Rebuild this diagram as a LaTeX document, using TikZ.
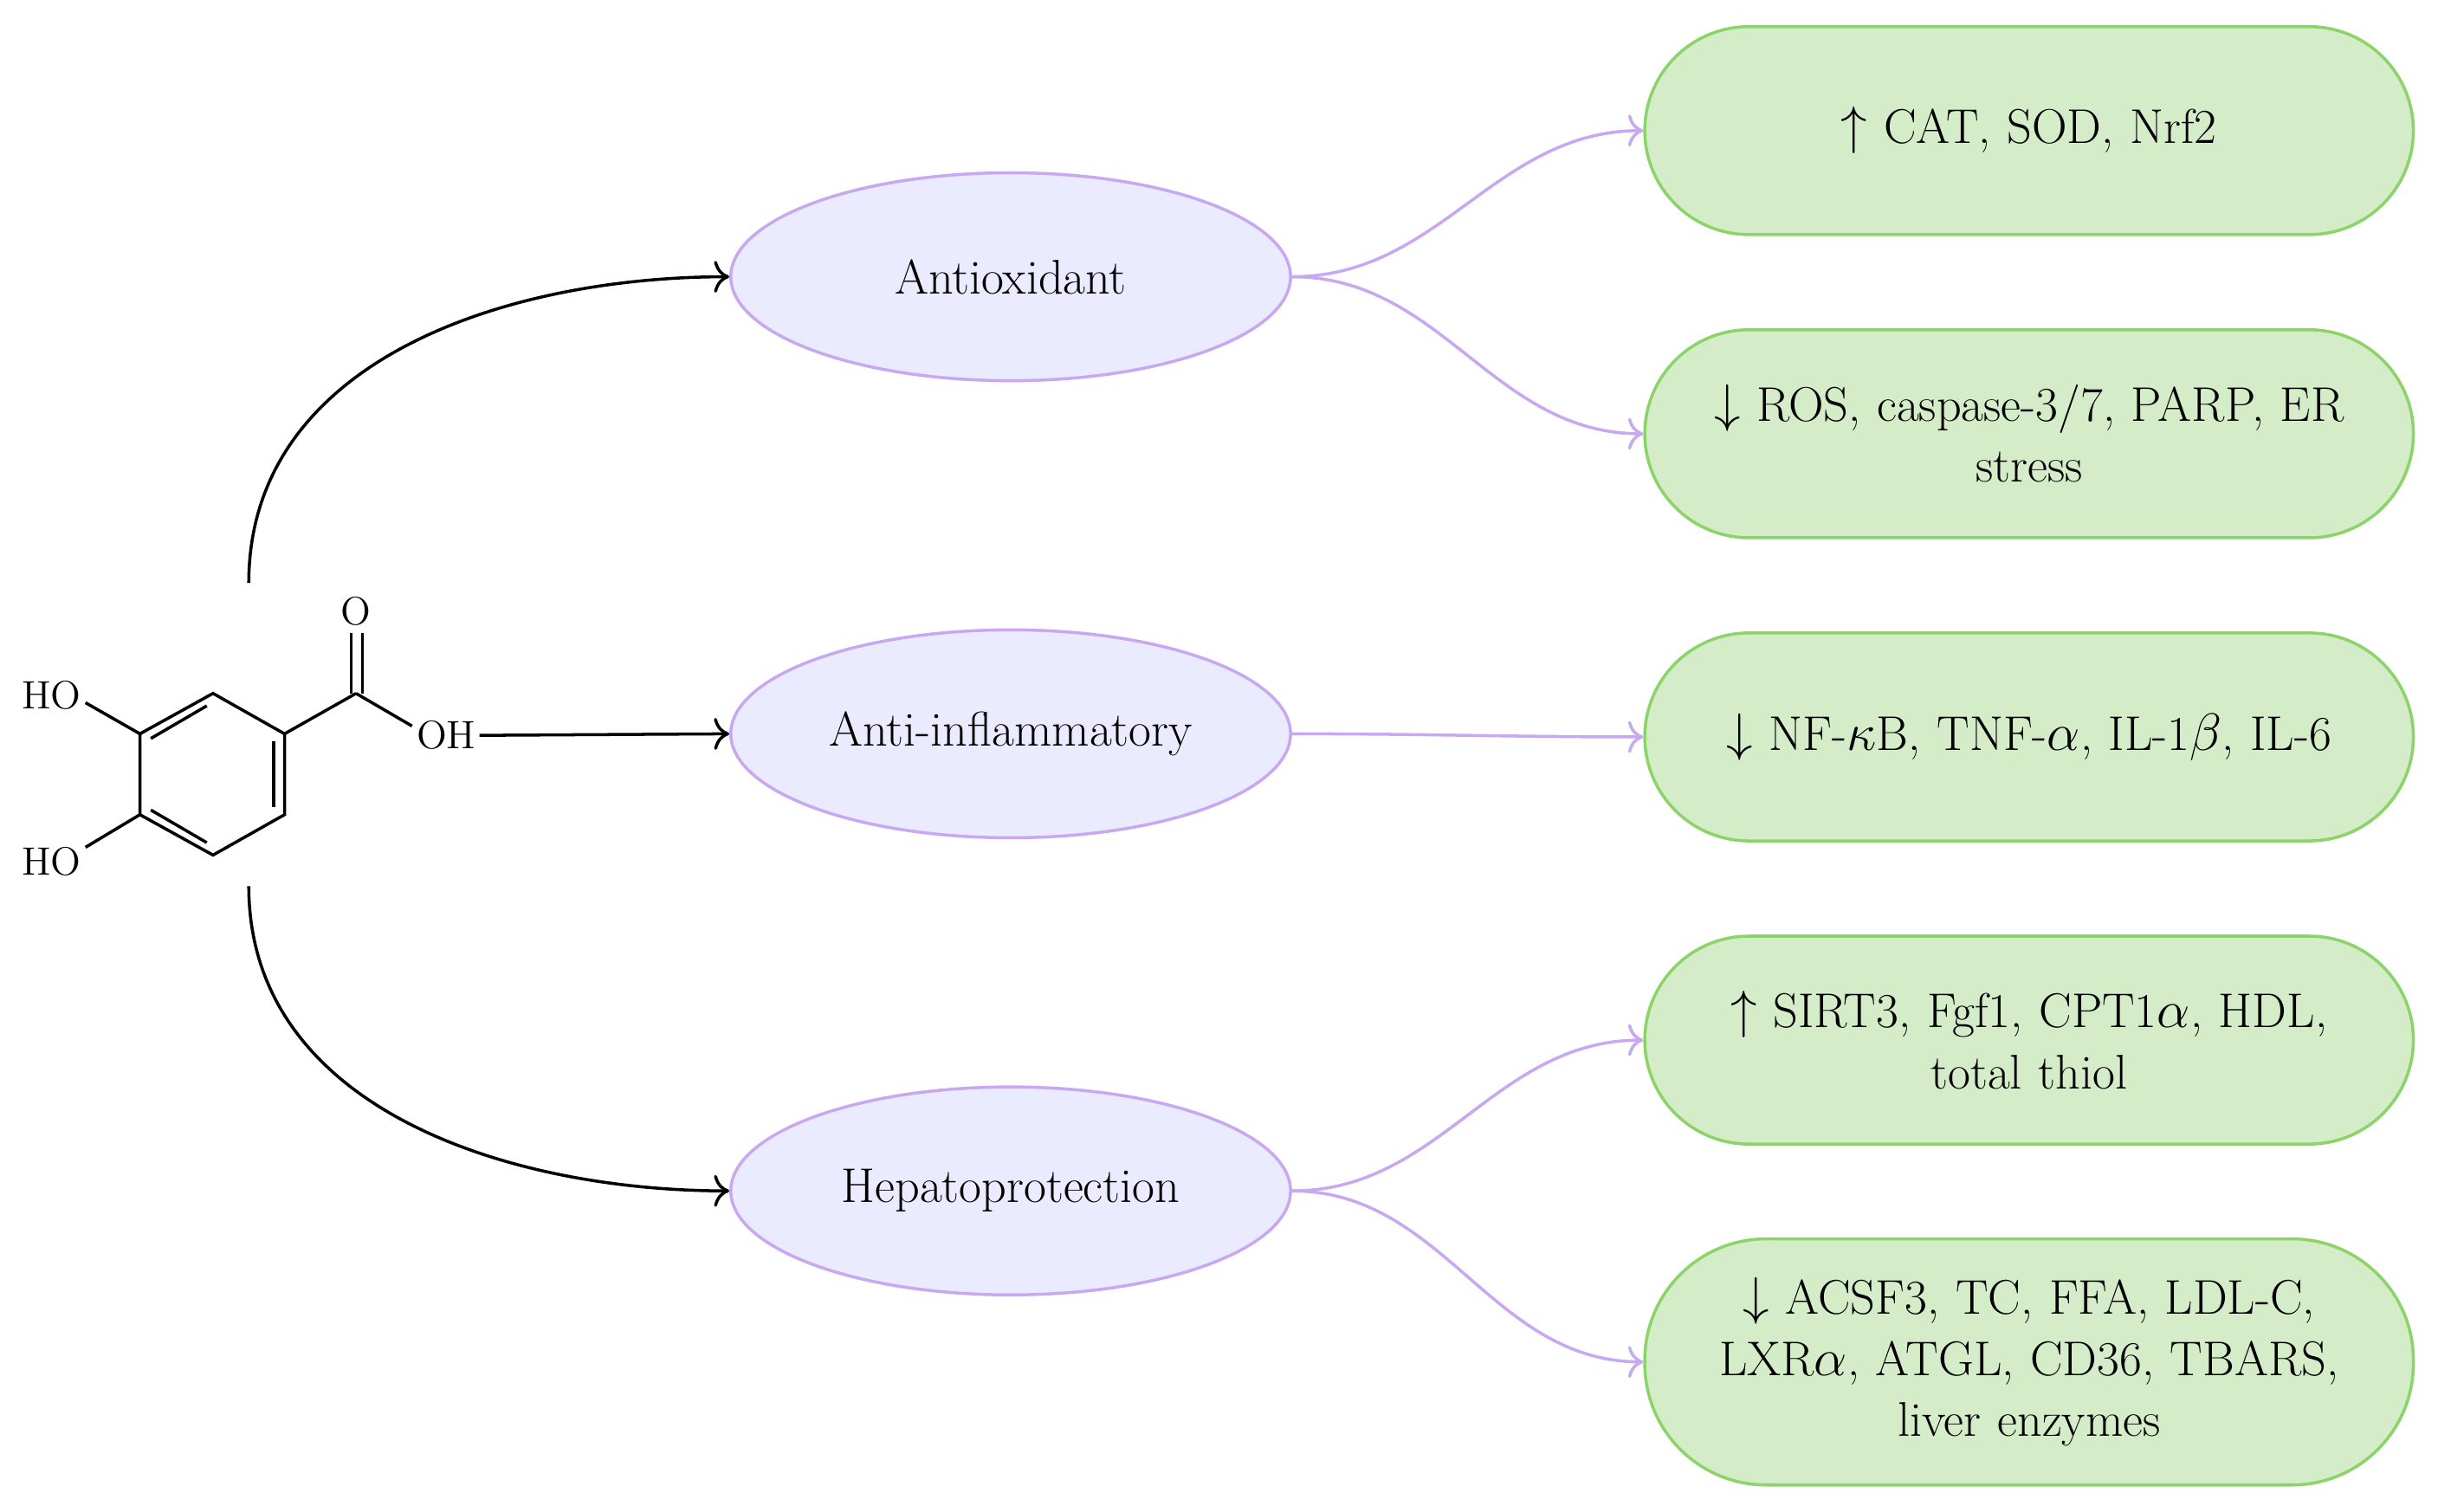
\documentclass[tikz,border=0pt]{standalone}
\usetikzlibrary{arrows.meta,shapes.geometric}
\definecolor{ellf}{HTML}{EBEBFF}
\definecolor{elld}{HTML}{C8A8F0}
\definecolor{boxf}{HTML}{D4EDC8}
\definecolor{boxd}{HTML}{8CD46A}
\begin{document}
\begin{tikzpicture}[x=0.01795cm,y=-0.01795cm,
  every node/.style={font=\fontsize{16}{20}\selectfont},
  ell/.style={ellipse,draw=elld,fill=ellf,line width=1pt,minimum width=6.46cm,minimum height=2.4cm,inner sep=0pt},
  box/.style={rounded corners=1.2cm,draw=boxd,fill=boxf,line width=1pt,minimum width=8.87cm,minimum height=2.4cm,text width=8.4cm,align=center},
  va/.style={draw=elld,line width=1pt,-{To[length=5pt]}},
  ba/.style={draw=black,line width=1pt,-{To[length=5pt]}},
  bond/.style={line width=1pt},
  atom/.style={font=\fontsize{13}{15}\selectfont,inner sep=1pt}]
\useasboundingbox (0,0) rectangle (1568,972);
\node[ell] (a) at (650,178) {Antioxidant};
\node[ell] (b) at (650,472) {Anti-inflammatory};
\node[ell] (c) at (650,766) {Hepatoprotection};
\node[box] (b1) at (1305,84) {$\uparrow$ CAT, SOD, Nrf2};
\node[box] (b2) at (1305,279) {$\downarrow$ ROS, caspase-3/7, PARP, ER\\ stress};
\node[box] (b3) at (1305,474) {$\downarrow$ NF-$\kappa$B, TNF-$\alpha$, IL-1$\beta$, IL-6};
\node[box] (b4) at (1305,669) {$\uparrow$ SIRT3, Fgf1, CPT1$\alpha$, HDL,\\ total thiol};
\node[box,minimum height=2.84cm,rounded corners=1.4cm] (b5) at (1305,876) {$\downarrow$ ACSF3, TC, FFA, LDL-C,\\ LXR$\alpha$, ATGL, CD36, TBARS,\\ liver enzymes};
\draw[va] (a.east) to[out=0,in=180] (b1.west);
\draw[va] (a.east) to[out=0,in=180] (b2.west);
\draw[va] (b.east) to[out=0,in=180] (b3.west);
\draw[va] (c.east) to[out=0,in=180] (b4.west);
\draw[va] (c.east) to[out=0,in=180] (b5.west);
% molecule
\coordinate (r1) at (137,446); \coordinate (r2) at (183,472); \coordinate (r3) at (183,524);
\coordinate (r4) at (137,550); \coordinate (r5) at (90,524); \coordinate (r6) at (90,472);
\draw[bond] (r1)--(r2)--(r3)--(r4)--(r5)--(r6)--cycle;
\draw[bond] (176,477)--(176,519);
\draw[bond] (133,542)--(97,521);
\draw[bond] (97,475)--(133,454);
\coordinate (cc) at (229,446);
\draw[bond] (r2)--(cc);
\draw[bond] (226,446)--(226,407); \draw[bond] (233,446)--(233,407);
\node[atom] (o) at (229,393) {O};
\draw[bond] (cc)--(265,467);
\node[atom] (oh) at (287,473) {OH};
\draw[bond] (r6)--(55,452);
\node[atom] (ho1) at (33,447) {HO};
\draw[bond] (r5)--(55,545);
\node[atom] (ho2) at (33,554) {HO};
\coordinate (s1) at (160,375); \coordinate (s3) at (160,570);
\draw[ba] (s1) to[out=90,in=180] (a.west);
\draw[ba] (oh.east) -- (b.west);
\draw[ba] (s3) to[out=-90,in=180] (c.west);
\end{tikzpicture}
\end{document}
